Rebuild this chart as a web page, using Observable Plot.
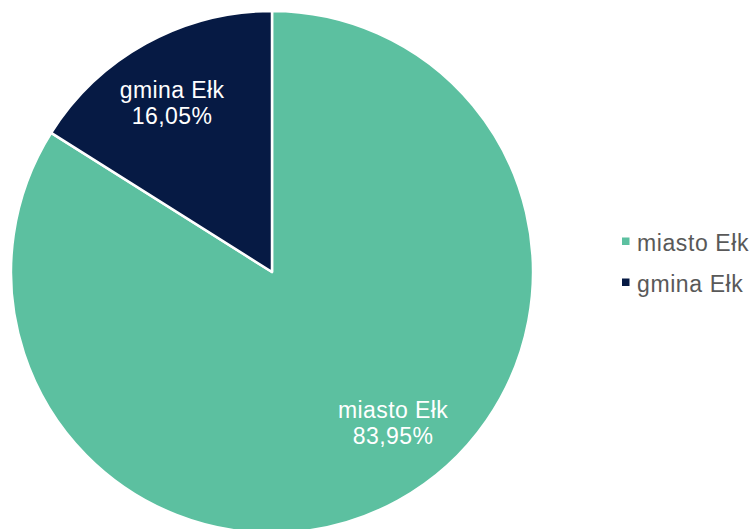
<!DOCTYPE html>
<html>
<head>
<meta charset="utf-8">
<script src="https://cdn.jsdelivr.net/npm/d3@7"></script>
<script src="https://cdn.jsdelivr.net/npm/@observablehq/plot@0.6"></script>
<style>
  html, body { margin: 0; padding: 0; background: #fff; }
  svg { display: block; }
</style>
</head>
<body>
<div id="chart"></div>
<script>
const categories = ["miasto Ełk", "gmina Ełk"];
const values = [83.95, 16.05];
const valueLabels = ["83,95%", "16,05%"];
const colors = ["#5CC0A0", "#061A44"];

const data = categories.map((c, i) => ({ category: c, value: values[i], label: valueLabels[i] }));

const W = 749, H = 529;
const cx = 272, cy = 272, R = 261;
const FONT = "'Liberation Sans', Arial, sans-serif";

const pie = d3.pie().value(d => d.value).sort(null);
const arcs = pie(data);

const color = Plot.scale({ color: { domain: categories, range: colors } });

function pieMark(index, scales, values_, dimensions, context) {
  const x0 = scales.x(0), y0 = scales.y(0);
  const r = Math.abs(scales.x(1) - scales.x(0));
  const arc = d3.arc().innerRadius(0).outerRadius(r);
  const g = d3.create("svg:g");
  const slices = g.append("g").attr("transform", `translate(${x0},${y0})`);
  slices.selectAll("path").data(arcs).join("path")
    .attr("d", arc)
    .attr("fill", d => color.apply(d.data.category))
    .attr("stroke", "#fff")
    .attr("stroke-width", 2.5)
    .attr("stroke-linejoin", "round");
  // data labels (best-fit style placement near slice centroid)
  const labelAngleShift = { "miasto Ełk": -0.171, "gmina Ełk": -0.03 };
  const labelRadius = { "miasto Ełk": 0.742, "gmina Ełk": 0.752 };
  const lab = slices.selectAll("text").data(arcs).join("text")
    .attr("transform", d => {
      const a = (d.startAngle + d.endAngle) / 2 + (labelAngleShift[d.data.category] || 0);
      const rr = r * (labelRadius[d.data.category] || 0.745);
      return `translate(${rr * Math.sin(a)},${-rr * Math.cos(a)})`;
    })
    .attr("text-anchor", "middle")
    .attr("fill", "#fff")
    .attr("font-family", FONT)
    .attr("font-size", 23)
    .attr("letter-spacing", 0.4);
  lab.append("tspan").attr("x", 0).attr("y", -5).text(d => d.data.category);
  lab.append("tspan").attr("x", 0).attr("y", 21).text(d => d.data.label);
  // legend
  const leg = g.append("g").attr("transform", `translate(622,241)`);
  const items = leg.selectAll("g").data(categories).join("g")
    .attr("transform", (d, i) => `translate(0,${i * 41})`);
  items.append("rect").attr("x", 0).attr("y", -3.5).attr("width", 7.5).attr("height", 7.5)
    .attr("fill", d => color.apply(d));
  items.append("text").attr("x", 15).attr("y", 9.5)
    .attr("text-anchor", "start")
    .attr("fill", "#595959")
    .attr("font-family", FONT)
    .attr("font-size", 23)
    .attr("letter-spacing", 0.6)
    .text(d => d);
  return g.node();
}

const chart = Plot.plot({
  width: W,
  height: H,
  margin: 0,
  x: { domain: [-1, 1], range: [cx - R, cx + R], axis: null },
  y: { domain: [1, -1], range: [cy - R, cy + R], axis: null },
  style: { background: "#fff" },
  marks: [pieMark]
});
document.getElementById("chart").appendChild(chart);
</script>
</body>
</html>
